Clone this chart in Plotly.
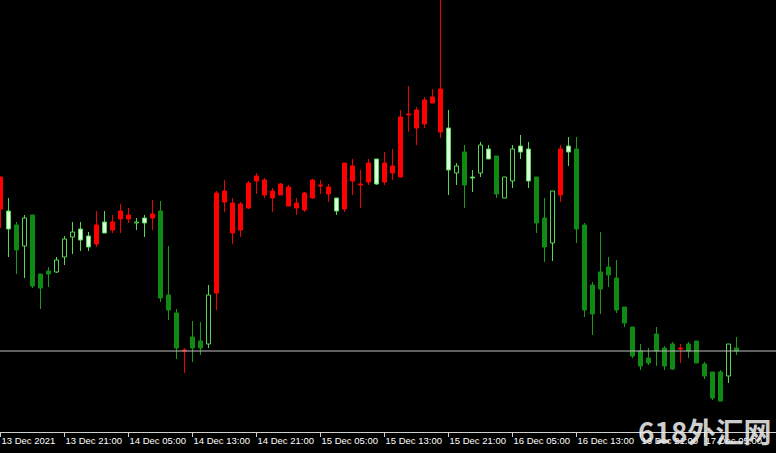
import plotly.graph_objects as go
import pandas as pd

# Hourly candles starting 13 Dec 2021 13:00
start_time = "2021-12-13 13:00"

opens = [114.091, 114.089, 114.075, 114.054, 114.085, 114.026, 114.029, 114.028, 114.043, 114.063,
         114.071, 114.064, 114.056, 114.078, 114.070, 114.081, 114.081, 114.077, 114.082, 114.082,
         114.089, 114.005, 113.987, 113.949, 113.963, 113.959, 113.956, 114.007, 114.098, 114.067,
         114.070, 114.092, 114.119, 114.105, 114.102, 114.105, 114.094, 114.092, 114.090, 114.102,
         114.114, 114.106, 114.102, 114.091, 114.119, 114.115, 114.118, 114.141, 114.118, 114.127,
         114.123, 114.185, 114.172, 114.176, 114.197, 114.168, 114.172, 114.127, 114.148, 114.123,
         114.127, 114.151, 114.144, 114.102, 114.119, 114.154, 114.151, 114.123, 114.082, 114.057,
         114.105, 114.154, 114.151, 114.075, 114.015, 114.028, 114.033, 114.022, 113.993, 113.973,
         113.949, 113.942, 113.966, 113.952, 113.956, 113.951, 113.956, 113.959, 113.936, 113.928,
         113.928, 113.924, 113.952]
highs = [114.123, 114.102, 114.078, 114.085, 114.085, 114.026, 114.033, 114.043, 114.064, 114.078,
         114.078, 114.068, 114.089, 114.089, 114.085, 114.096, 114.092, 114.082, 114.085, 114.100,
         114.099, 114.054, 113.991, 113.952, 113.979, 113.978, 114.015, 114.109, 114.120, 114.102,
         114.098, 114.119, 114.127, 114.122, 114.112, 114.117, 114.115, 114.102, 114.108, 114.121,
         114.120, 114.116, 114.102, 114.137, 114.141, 114.130, 114.141, 114.141, 114.148, 114.151,
         114.190, 114.214, 114.193, 114.203, 114.211, 114.300, 114.190, 114.137, 114.155, 114.130,
         114.158, 114.155, 114.144, 114.123, 114.155, 114.165, 114.158, 114.123, 114.102, 114.109,
         114.155, 114.163, 114.163, 114.077, 114.018, 114.068, 114.043, 114.040, 113.993, 113.973,
         113.956, 113.952, 113.973, 113.954, 113.958, 113.956, 113.958, 113.959, 113.938, 113.928,
         113.930, 113.956, 113.963]
lows = [114.072, 114.043, 114.026, 114.022, 114.012, 113.991, 114.013, 114.027, 114.035, 114.046,
        114.049, 114.049, 114.053, 114.067, 114.067, 114.067, 114.077, 114.070, 114.063, 114.070,
        113.998, 113.980, 113.941, 113.927, 113.938, 113.945, 113.952, 113.990, 114.088, 114.056,
        114.063, 114.091, 114.106, 114.102, 114.088, 114.105, 114.094, 114.085, 114.088, 114.101,
        114.106, 114.098, 114.085, 114.088, 114.105, 114.092, 114.115, 114.115, 114.115, 114.120,
        114.123, 114.168, 114.155, 114.172, 114.197, 114.162, 114.105, 114.115, 114.092, 114.108,
        114.123, 114.141, 114.102, 114.102, 114.112, 114.141, 114.112, 114.067, 114.038, 114.039,
        114.098, 114.134, 114.057, 113.983, 113.965, 113.986, 114.013, 113.987, 113.973, 113.942,
        113.930, 113.935, 113.934, 113.930, 113.930, 113.937, 113.942, 113.937, 113.921, 113.900,
        113.899, 113.917, 113.945]
closes = [114.123, 114.071, 114.050, 114.082, 114.014, 114.012, 114.026, 114.040, 114.061, 114.068,
          114.060, 114.053, 114.075, 114.067, 114.078, 114.089, 114.085, 114.078, 114.077, 114.086,
          114.002, 113.990, 113.952, 113.950, 113.952, 113.952, 114.005, 114.107, 114.109, 114.097,
          114.096, 114.117, 114.124, 114.120, 114.109, 114.116, 114.113, 114.097, 114.107, 114.120,
          114.115, 114.113, 114.089, 114.137, 114.134, 114.116, 114.137, 114.116, 114.137, 114.134,
          114.183, 114.186, 114.190, 114.200, 114.203, 114.211, 114.130, 114.134, 114.115, 114.122,
          114.155, 114.141, 114.106, 114.123, 114.151, 114.148, 114.119, 114.077, 114.053, 114.109,
          114.151, 114.148, 114.071, 113.990, 113.986, 114.011, 114.025, 113.990, 113.977, 113.944,
          113.934, 113.937, 113.949, 113.934, 113.931, 113.952, 113.949, 113.937, 113.924, 113.902,
          113.899, 113.956, 113.949]
# candle painting: r = red, d = dark green, h = hollow green, l = light filled
styles = list("rldhdddhhhllrlrrrhlr"
              "dddrddhrrrrrrrrrrrrr"
              "rrlrrrrlrrrrrrrrlhdl"
              "hldhhllddhrldddddddd"
              "dddddrdddddhd")

tick_labels = ["13 Dec 2021", "13 Dec 21:00", "14 Dec 05:00", "14 Dec 13:00",
               "14 Dec 21:00", "15 Dec 05:00", "15 Dec 13:00", "15 Dec 21:00",
               "16 Dec 05:00", "16 Dec 13:00", "16 Dec 21:00", "17 Dec 05:00"]

times = pd.date_range(start_time, periods=len(opens), freq="h")
idx = list(range(len(opens)))
tick_idx = idx[::8][:len(tick_labels)]

FILL = {"r": "#ff0000", "d": "#0f8a12", "h": "#000000", "l": "#dcffdc"}
EDGE = {"r": "#ff0000", "d": "#0f8a12", "h": "#55d655", "l": "#55d655"}
WICK = {"r": "#f00000", "d": "#1a9a1a", "h": "#55d655", "l": "#55d655"}

body_base = [min(o, c) for o, c in zip(opens, closes)]
body_h = [abs(c - o) for o, c in zip(opens, closes)]
wick_h = [h - l for h, l in zip(highs, lows)]

fig = go.Figure()
fig.add_trace(go.Bar(
    x=idx, base=lows, y=wick_h, width=0.125,
    marker=dict(color=[WICK[s] for s in styles], line=dict(width=0)),
    customdata=[t.strftime("%d %b %H:%M") for t in times],
    hoverinfo="skip",
))
fig.add_trace(go.Bar(
    x=idx, base=body_base, y=body_h, width=0.5,
    marker=dict(color=[FILL[s] for s in styles],
                line=dict(color=[EDGE[s] for s in styles], width=1)),
    hoverinfo="skip",
))

fig.add_shape(type="line", xref="paper", x0=0, x1=1, yref="y",
              y0=closes[-1], y1=closes[-1], line=dict(color="#c0c0c0", width=1))

fig.add_annotation(text="618外汇网", xref="paper", yref="paper",
                   x=705 / 776, y=0.003, xanchor="center", yanchor="middle",
                   showarrow=False,
                   font=dict(family="Noto Sans CJK SC", size=28, color="rgba(235,235,235,0.88)",
                             weight=700))

fig.update_layout(
    width=776, height=453,
    margin=dict(l=0, r=0, t=0, b=21),
    paper_bgcolor="black", plot_bgcolor="black",
    barmode="overlay", showlegend=False,
    xaxis=dict(range=[-0.0625, 96.9375], showgrid=False, zeroline=False,
               showline=True, linecolor="#d0d0d0", linewidth=1,
               ticks="outside", ticklen=4, tickcolor="#d0d0d0", tickwidth=1,
               tickvals=tick_idx, ticktext=tick_labels, tickangle=0,
               ticklabelposition="outside right", automargin=False,
               tickfont=dict(family="Liberation Sans", size=9.5, color="white")),
    yaxis=dict(range=[113.868, 114.300], visible=False, showgrid=False, zeroline=False),
)

fig.write_html("out.html", config={"displayModeBar": False},
               post_script="document.body.style.margin='0';document.body.style.background='black';")
